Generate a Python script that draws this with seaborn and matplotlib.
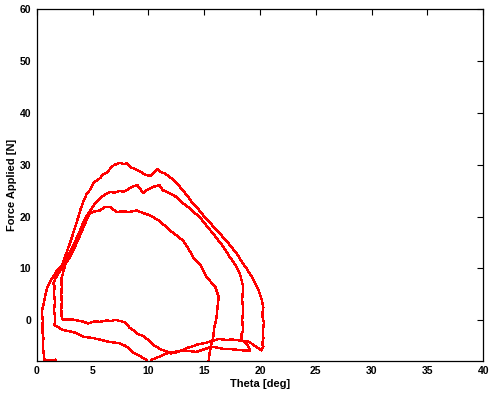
import matplotlib
matplotlib.use("Agg")
import matplotlib.pyplot as plt
import pandas as pd
import seaborn as sns

# cycle 1: outer loop (peak ~30 N), ends coming back along the bottom
theta_1 = [1.7, 1.2, 0.7, 0.6, 0.55, 0.6, 0.5, 0.55, 0.45, 0.6, 0.75, 0.9, 1.2,
           1.5, 1.8, 2.0, 2.25, 2.5, 2.8, 3.0, 3.3, 3.6, 3.9, 4.2, 4.5, 4.8, 5.1,
           5.4, 5.6, 5.7, 6.0, 6.3, 6.6, 6.9, 7.2, 7.5, 7.8, 8.1, 8.4, 8.7, 9.0,
           9.3, 9.6, 9.9, 10.2, 10.5, 10.8, 11.1, 11.5, 12.0, 12.5, 13.0, 13.5,
           14.0, 14.5, 15.0, 15.5, 16.0, 16.5, 17.0, 17.5, 18.0, 18.4, 18.8,
           19.2, 19.5, 19.8, 20.0, 20.15, 20.3, 20.2, 20.35, 20.25, 20.3, 20.2,
           20.3, 20.1, 19.8, 19.4, 19.1, 18.6, 18.2, 17.5, 17.0, 16.3, 15.7,
           15.1, 14.5, 14.0, 13.5, 13.0, 12.5, 12.0, 11.6, 11.0, 10.5, 10.0,
           9.5, 9.0, 8.65, 8.3, 8.0, 7.6, 7.0, 6.6, 6.3, 5.7, 5.2, 4.6, 4.2,
           3.6, 3.0, 2.4]
force_1 = [-7.6, -7.7, -7.6, -6.0, -4.5, -3.5, -2.0, 0.0, 1.5, 3.0, 4.5, 6.0, 7.5,
           8.5, 9.5, 10.0, 10.5, 12.0, 13.8, 15.0, 17.0, 19.0, 21.2, 23.0, 24.5,
           25.2, 26.5, 27.0, 27.3, 27.5, 28.2, 28.5, 29.3, 29.9, 30.2, 30.4,
           30.1, 30.3, 29.5, 29.3, 29.0, 28.7, 28.2, 28.0, 27.8, 28.4, 29.2,
           28.6, 28.3, 27.5, 26.6, 25.3, 24.0, 22.5, 21.4, 20.0, 18.9, 17.6,
           16.5, 15.3, 14.0, 12.6, 11.2, 10.0, 8.6, 7.5, 6.2, 5.0, 4.0, 2.5,
           1.0, -0.5, -2.0, -3.5, -4.5, -5.1, -5.8, -5.3, -4.8, -4.2, -4.0,
           -3.9, -3.7, -3.8, -3.6, -4.0, -4.4, -4.6, -5.0, -5.3, -5.8, -6.2,
           -6.4, -6.0, -5.5, -4.8, -3.8, -3.0, -2.6, -1.9, -1.4, -0.5, -0.2,
           0.1, -0.2, 0.0, -0.3, -0.2, -0.6, -0.3, 0.0, 0.2, 0.1]

# cycle 2: middle loop (peak ~26 N)
theta_2 = [2.4, 2.25, 2.2, 2.25, 2.2, 2.25, 2.2, 2.4, 2.7, 3.2, 3.9, 4.3, 4.8,
           5.2, 5.7, 6.1, 6.6, 7.0, 7.4, 7.8, 8.2, 8.6, 9.0, 9.3, 9.55, 9.9,
           10.4, 11.0, 11.3, 11.9, 12.5, 13.0, 13.6, 14.1, 14.6, 15.2, 15.8,
           16.5, 17.3, 17.8, 18.2, 18.5, 18.4, 18.5, 18.4, 18.5, 18.3, 18.4,
           18.8, 19.1, 18.5, 17.5, 16.7, 15.7, 15.0, 14.3, 13.6, 13.1, 12.3,
           11.6, 11.0, 10.3, 10.0]
force_2 = [0.1, 0.5, 2.0, 3.5, 5.0, 6.5, 7.8, 9.5, 11.9, 14.0, 17.4, 19.5, 21.2,
           22.5, 23.5, 24.3, 24.8, 24.6, 25.0, 24.8, 25.3, 25.8, 26.1, 25.3,
           24.5, 25.2, 25.7, 26.1, 25.1, 24.5, 23.8, 22.7, 21.8, 20.8, 19.9,
           18.3, 16.7, 14.8, 12.2, 10.6, 9.0, 6.4, 4.0, 2.0, 0.0, -1.9, -3.0,
           -3.9, -4.5, -5.8, -5.8, -5.6, -5.5, -5.1, -5.6, -6.1, -5.9, -5.8,
           -6.1, -6.4, -7.0, -7.6, -9.0]

# cycle 3: inner loop (peak ~21 N)
theta_3 = [10.2, 9.85, 9.2, 8.65, 8.0, 7.4, 6.56, 5.8, 5.0, 4.2, 3.5, 2.9, 2.4,
           1.8, 1.6, 1.65, 1.55, 1.65, 1.55, 1.6, 1.5, 1.7, 2.1, 2.5, 3.0, 3.5,
           4.0, 4.4, 4.77, 5.2, 5.67, 6.1, 6.56, 6.9, 7.16, 7.7, 8.35, 8.95,
           9.5, 10.1, 10.9, 11.5, 11.9, 12.5, 13.1, 13.6, 14.0, 14.6, 15.2,
           15.6, 16.0, 16.3, 16.2, 16.1, 15.9, 15.8, 15.6, 15.5, 15.4, 15.3]
force_3 = [-9.0, -7.7, -6.8, -6.2, -5.0, -4.4, -4.2, -3.8, -3.4, -3.2, -2.4,
           -2.1, -1.9, -1.2, -1.0, 0.5, 2.0, 3.5, 5.0, 6.5, 7.1, 8.2, 9.5, 10.8,
           12.2, 14.5, 17.0, 19.0, 20.6, 21.0, 21.2, 21.8, 21.9, 21.3, 20.9,
           21.0, 20.9, 21.2, 20.7, 20.3, 19.3, 18.2, 17.4, 16.4, 15.4, 13.8,
           12.2, 10.9, 8.4, 7.4, 6.4, 4.5, 2.6, 0.5, -1.5, -3.5, -5.0, -6.2,
           -7.8, -9.0]

x_ticks = [0, 5, 10, 15, 20, 25, 30, 35, 40]
y_ticks = [0, 10, 20, 30, 40, 50, 60]

frames = []
for name, th, fo in [("c1", theta_1, force_1), ("c2", theta_2, force_2),
                     ("c3", theta_3, force_3)]:
    d = pd.DataFrame({"theta": th, "force": fo})
    d["cycle"] = name
    frames.append(d)
df = pd.concat(frames, ignore_index=True)

sns.set_style("white")
plt.rcParams["font.family"] = ["Liberation Sans", "DejaVu Sans"]
plt.rcParams["text.color"] = "black"
plt.rcParams["axes.labelcolor"] = "black"
plt.rcParams["xtick.color"] = "black"
plt.rcParams["ytick.color"] = "black"

fig = plt.figure(figsize=(4.99, 3.95), dpi=100)
ax = fig.add_axes([0.0735, 0.0868, 0.8951, 0.8897])

sns.lineplot(data=df, x="theta", y="force", units="cycle", estimator=None,
             sort=False, color="red", linewidth=1.0, antialiased=False, ax=ax)

ax.set_xlim(0, 40)
ax.set_ylim(-7.8, 60)
ax.set_xticks(x_ticks)
ax.set_yticks(y_ticks)
ax.tick_params(direction="in", top=True, right=True, length=4, width=0.8,
               labelsize=7.5, pad=4)
for lab in ax.get_xticklabels() + ax.get_yticklabels():
    lab.set_fontweight("bold")
for s in ax.spines.values():
    s.set_color("black")
    s.set_linewidth(0.9)
ax.set_xlabel("Theta [deg]", fontsize=8, fontweight="bold", labelpad=2)
ax.set_ylabel("Force Applied [N]", fontsize=8, fontweight="bold", labelpad=2)

fig.savefig("out.png", dpi=100)
